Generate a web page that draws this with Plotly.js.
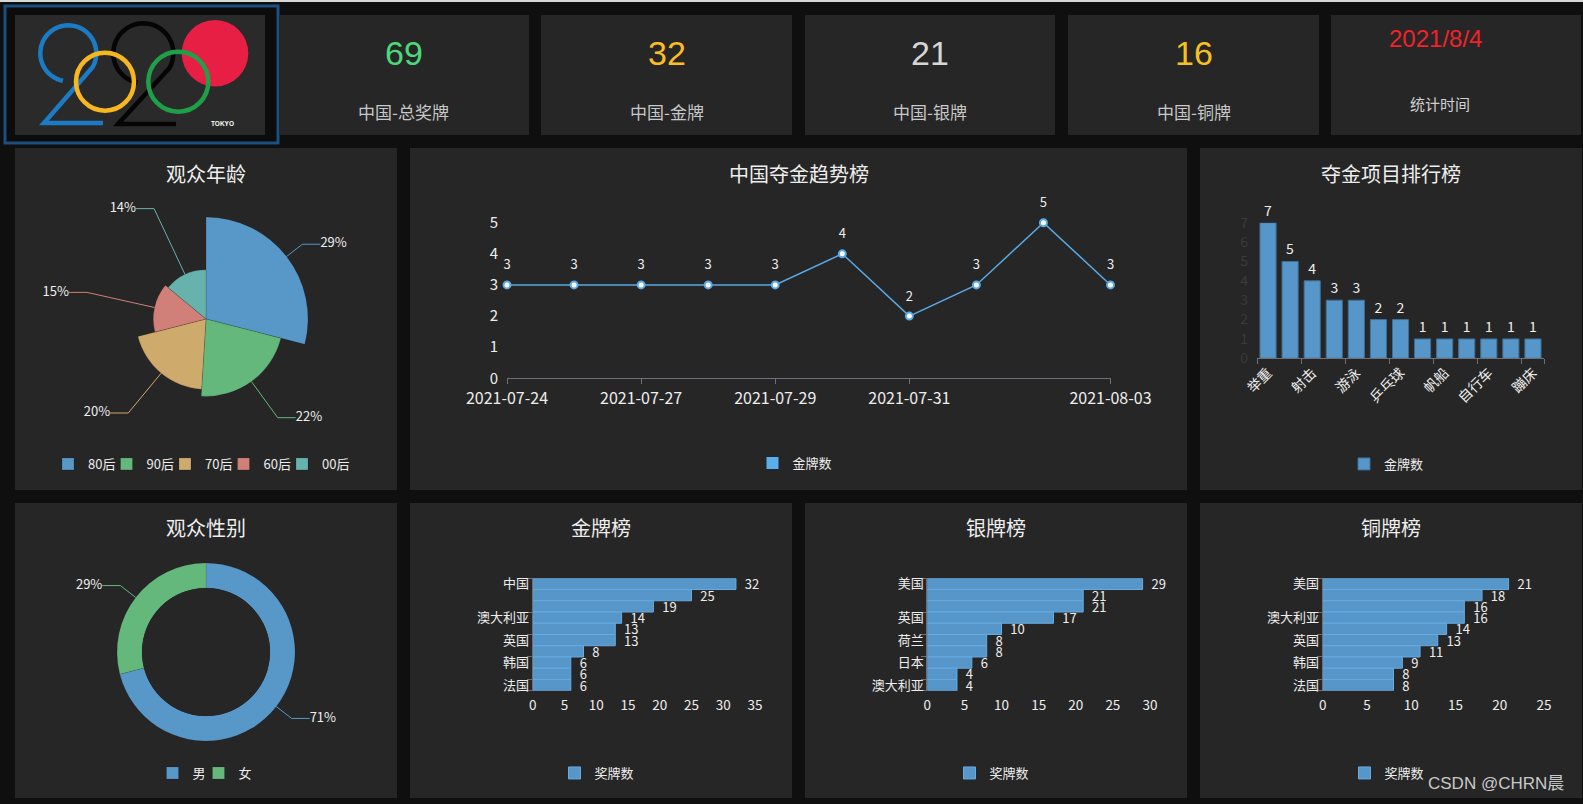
<!DOCTYPE html>
<html>
<head>
<meta charset="utf-8">
<script src="https://cdn.plot.ly/plotly-3.0.1.min.js"></script>
<style>
html,body{margin:0;padding:0;background:#0f0f0f;overflow:hidden}
#chart{width:1583px;height:804px}
</style>
</head>
<body>
<div id="chart"></div>
<script>
// ---------------- DATA ----------------
const kpiValues = [69, 32, 21, 16];
const kpiLabels = ['中国-总奖牌', '中国-金牌', '中国-银牌', '中国-铜牌'];
const statDate = '2021/8/4';
const statLabel = '统计时间';

const ageGroups = ['80后', '90后', '70后', '60后', '00后'];
const agePercent = [29, 22, 20, 15, 14];

const genders = ['男', '女'];
const genderPercent = [71, 29];

const trendDates = ['2021-07-24', '2021-07-25', '2021-07-27', '2021-07-28', '2021-07-29',
                    '2021-07-30', '2021-07-31', '2021-08-01', '2021-08-02', '2021-08-03'];
const trendGolds = [3, 3, 3, 3, 3, 4, 2, 3, 5, 3];
const trendTickDates = ['2021-07-24', '2021-07-27', '2021-07-29', '2021-07-31', '2021-08-03'];

const sports = ['举重', '跳水', '射击', '体操', '游泳', '羽毛球', '乒乓球', '赛艇', '帆船', '击剑', '自行车', '田径', '蹦床'];
const sportGolds = [7, 5, 4, 3, 3, 2, 2, 1, 1, 1, 1, 1, 1];
const sportTicks = ['举重', '射击', '游泳', '乒乓球', '帆船', '自行车', '蹦床'];

const goldCountries = ['中国', '美国', '日本', '澳大利亚', '俄罗斯奥委会', '英国', '德国', '韩国', '荷兰', '法国'];
const goldCounts = [32, 25, 19, 14, 13, 13, 8, 6, 6, 6];
const goldTicks = ['中国', '澳大利亚', '英国', '韩国', '法国'];

const silverCountries = ['美国', '俄罗斯奥委会', '中国', '英国', '德国', '荷兰', '法国', '日本', '韩国', '澳大利亚'];
const silverCounts = [29, 21, 21, 17, 10, 8, 8, 6, 4, 4];
const silverTicks = ['美国', '英国', '荷兰', '日本', '澳大利亚'];

const bronzeCountries = ['美国', '俄罗斯奥委会', '中国', '澳大利亚', '意大利', '英国', '德国', '韩国', '荷兰', '法国'];
const bronzeCounts = [21, 18, 16, 16, 14, 13, 11, 9, 8, 8];
const bronzeTicks = ['美国', '澳大利亚', '英国', '韩国', '法国'];

// ---------------- STYLE / LAYOUT HELPERS ----------------
const W = 1583, H = 804;
const X = x => x / W, Y = y => 1 - y / H;
const FONT = '"Noto Sans CJK SC", "Microsoft YaHei", sans-serif';
const NUMFONT = '"Liberation Sans", Arial, "Noto Sans CJK SC", sans-serif';
const TXT = '#eeeeee';
const PANEL = '#262626';
const AXIS = '#6e7079';
const BLUE = '#5796c8';
const ageColors = ['#5898c8', '#64b87c', '#cfaa6d', '#d08078', '#68b2ae'];
const genderColors = ['#5898c8', '#64b87c'];
const kpiColors = ['#4cd87c', '#fbbd23', '#d6d6d6', '#f7c01f'];

const shapes = [], annotations = [], traces = [];

function rect(x0, y0, x1, y1, fill, line) {
  shapes.push({type: 'rect', xref: 'paper', yref: 'paper', x0: X(x0), x1: X(x1), y0: Y(y1), y1: Y(y0),
    fillcolor: fill, line: line || {width: 0}, layer: 'below'});
}
function ring(cx, cy, r, color, width, fill) {
  shapes.push({type: 'circle', xref: 'paper', yref: 'paper', x0: X(cx - r), x1: X(cx + r), y0: Y(cy + r), y1: Y(cy - r),
    fillcolor: fill || 'rgba(0,0,0,0)', line: {color: color, width: width}, layer: 'below'});
}
function pathShape(pts, color, width) {
  const d = 'M' + pts.map(p => X(p[0]).toFixed(6) + ',' + Y(p[1]).toFixed(6)).join('L');
  shapes.push({type: 'path', xref: 'paper', yref: 'paper', path: d, line: {color: color, width: width}, fillcolor: 'rgba(0,0,0,0)', layer: 'below'});
}
function twoPoints(cx, cy, r, t0, t1, diag, base) {
  const pts = [];
  for (let k = 0; k <= 48; k++) {
    const t = (t0 + (t1 - t0) * k / 48) * Math.PI / 180;
    pts.push([cx + r * Math.cos(t), cy + r * Math.sin(t)]);
  }
  pts.push(diag, base);
  return pts;
}
function text(x, y, t, size, color, extra) {
  annotations.push(Object.assign({xref: 'paper', yref: 'paper', x: X(x), y: Y(y), text: t, showarrow: false,
    xanchor: 'center', yanchor: 'middle', font: {family: FONT, size: size, color: color}}, extra || {}));
}

// ---------------- BACKGROUND PANELS ----------------
rect(0, 0, 1583, 2, '#d8d8d8');
// logo frame
rect(5, 6, 278, 143, '#0c0c0c', {color: '#1b4f80', width: 3});
rect(15, 15, 265, 135, '#2a2a2a');
// KPI cards
const cardX = [[279, 529], [541, 792], [805, 1055], [1068, 1319], [1331, 1581]];
cardX.forEach(c => rect(c[0], 15, c[1], 135, PANEL));
// row 2
rect(15, 148, 397, 490, PANEL);
rect(410, 148, 1187, 490, PANEL);
rect(1200, 148, 1582, 490, PANEL);
// row 3
rect(15, 503, 397, 798, PANEL);
rect(410, 503, 792, 798, PANEL);
rect(805, 503, 1187, 798, PANEL);
rect(1200, 503, 1582, 798, PANEL);

// ---------------- LOGO ----------------
ring(215, 53.3, 33.3, 'rgba(0,0,0,0)', 0, '#e71f45');
pathShape(twoPoints(68.3, 53.3, 28, 101, 390, [44, 123], [103, 123]), '#1b7bc4', 4.5);
pathShape(twoPoints(143.3, 53.3, 30, 101, 390, [118, 124], [176, 124]), '#050505', 4.5);
ring(105, 81.7, 29, '#f7b720', 4.5);
ring(178.3, 81.7, 30, '#1e9f48', 4.5);
text(222, 124, '<b>TOKYO</b>', 6.5, '#ffffff', {font: {family: NUMFONT, size: 6.5, color: '#ffffff'}});

// ---------------- KPI ----------------
kpiValues.forEach((v, i) => {
  const cx = (cardX[i][0] + cardX[i][1]) / 2;
  text(cx, 52.5, String(v), 34, kpiColors[i], {font: {family: NUMFONT, size: 34, color: kpiColors[i]}});
  text(cx, 111, kpiLabels[i], 17, '#c8c8c8');
});
text(1435, 39, statDate, 24, '#f0232b', {font: {family: NUMFONT, size: 24, color: '#f0232b'}});
text(1440, 103.5, statLabel, 15, '#d0d0d0');

// ---------------- TITLES ----------------
text(206, 173, '观众年龄', 20, TXT);
text(798.5, 173, '中国夺金趋势榜', 20, TXT);
text(1391, 173, '夺金项目排行榜', 20, TXT);
text(206, 527, '观众性别', 20, TXT);
text(601, 527, '金牌榜', 20, TXT);
text(996, 527, '银牌榜', 20, TXT);
text(1391, 527, '铜牌榜', 20, TXT);
text(1496, 783, 'CSDN @CHRN晨', 17, '#c9c9c9', {font: {family: NUMFONT, size: 17, color: '#c9c9c9'}});

// ---------------- LEADER LINES (polar) ----------------
function leader(subplot, toR, dStart, dElbow, hLen, thetaDeg, color, label) {
  const t = thetaDeg * Math.PI / 180, s = Math.sin(t) >= 0 ? 1 : -1;
  const ex = dElbow * Math.sin(t), ey = dElbow * Math.cos(t);
  const hx = ex + s * hLen, hy = ey;
  const d2 = Math.hypot(hx, hy), t2 = Math.atan2(hx, hy) * 180 / Math.PI;
  traces.push({type: 'scatterpolar', subplot: subplot, mode: 'lines',
    r: [toR(dStart), toR(dElbow), toR(d2)], theta: [thetaDeg, thetaDeg, t2],
    line: {color: color, width: 1}, showlegend: false, hoverinfo: 'skip', cliponaxis: false});
  traces.push({type: 'scatterpolar', subplot: subplot, mode: 'text', r: [toR(d2)], theta: [t2], text: [label],
    textposition: s > 0 ? 'middle right' : 'middle left', textfont: {family: FONT, size: 13, color: TXT},
    showlegend: false, hoverinfo: 'skip', cliponaxis: false});
}

// ---------------- ROSE (age) ----------------
const R1 = 160, maxPetal = 102;
const rmax1 = Math.max(...agePercent) * R1 / maxPetal;
const toR1 = d => d / R1 * rmax1;
let cum = 0;
ageGroups.forEach((g, i) => {
  const v = agePercent[i];
  const mid = (cum + v / 2) * 3.6;
  cum += v;
  const tr = {type: 'barpolar', subplot: 'polar', r: [v], theta: [mid], width: [v * 3.6], name: g,
    marker: {color: ageColors[i], line: {color: 'rgba(0,0,0,0.25)', width: 0.6}},
    legend: 'legend', hoverinfo: 'skip'};
  if (i === ageGroups.length - 1) tr.legendwidth = 28;
  traces.push(tr);
});
cum = 0;
ageGroups.forEach((g, i) => {
  const v = agePercent[i];
  const mid = (cum + v / 2) * 3.6;
  cum += v;
  leader('polar', toR1, v / rmax1 * R1, maxPetal + 20, 18, mid, ageColors[i], v + '%');
});

// ---------------- DONUT (gender) ----------------
const R2 = 135, rOut = 89, rIn = 64;
const rmax2 = (R2 - rIn) / (rOut - rIn);
const toR2 = d => (d - rIn) / (R2 - rIn) * rmax2;
cum = 0;
genders.forEach((g, i) => {
  const v = genderPercent[i];
  const mid = (cum + v / 2) * 3.6;
  cum += v;
  const tr = {type: 'barpolar', subplot: 'polar2', r: [1], theta: [mid], width: [v * 3.6], name: g,
    marker: {color: genderColors[i], line: {color: 'rgba(0,0,0,0.2)', width: 0.5}},
    legend: 'legend4', hoverinfo: 'skip'};
  if (i === genders.length - 1) tr.legendwidth = 15;
  traces.push(tr);
});
cum = 0;
genders.forEach((g, i) => {
  const v = genderPercent[i];
  const mid = (cum + v / 2) * 3.6;
  cum += v;
  leader('polar2', toR2, rOut, rOut + 19.4, 18, mid, genderColors[i], v + '%');
});

// ---------------- LINE (trend) ----------------
traces.push({type: 'scatter', x: trendDates, y: trendGolds, xaxis: 'x', yaxis: 'y', mode: 'lines+markers',
  line: {color: '#5aa9e6', width: 1.5}, marker: {size: 7, color: '#ffffff', line: {color: '#5aa9e6', width: 2}},
  showlegend: false, hoverinfo: 'skip', cliponaxis: false});
traces.push({type: 'scatter', x: trendDates, y: trendGolds, xaxis: 'x', yaxis: 'y', mode: 'markers+text',
  text: trendGolds.map(String), textposition: 'top center', textfont: {family: FONT, size: 13, color: TXT},
  marker: {size: 18, color: 'rgba(0,0,0,0)'}, showlegend: false, hoverinfo: 'skip', cliponaxis: false});
traces.push({type: 'bar', x: [trendDates[0]], y: [0], xaxis: 'x', yaxis: 'y', name: '金牌数',
  marker: {color: '#5aaeeb', line: {width: 0}}, legend: 'legend2', hoverinfo: 'skip'});

// ---------------- BAR (sports) ----------------
traces.push({type: 'bar', x: sports, y: sportGolds, xaxis: 'x2', yaxis: 'y2', width: 0.73, name: '金牌数',
  marker: {color: BLUE, line: {color: '#3d6f9a', width: 1}},
  text: sportGolds.map(String), textposition: 'outside', constraintext: 'none', cliponaxis: false,
  textfont: {family: FONT, size: 14, color: TXT}, legend: 'legend3', hoverinfo: 'skip'});

// ---------------- HORIZONTAL BARS ----------------
function hbar(names, counts, xa, ya, lg) {
  traces.push({type: 'bar', orientation: 'h', y: names, x: counts, xaxis: xa, yaxis: ya, width: 1, name: '奖牌数',
    marker: {color: BLUE, line: {color: '#66ace4', width: 1}},
    text: counts.map(String), texttemplate: '\u00a0\u00a0%{text}', textposition: 'outside', constraintext: 'none', cliponaxis: false,
    textfont: {family: FONT, size: 13, color: TXT}, legend: lg, hoverinfo: 'skip'});
}
hbar(goldCountries, goldCounts, 'x3', 'y3', 'legend5');
hbar(silverCountries, silverCounts, 'x4', 'y4', 'legend6');
hbar(bronzeCountries, bronzeCounts, 'x5', 'y5', 'legend7');

// ---------------- AXES ----------------
const tf = (size, color) => ({family: FONT, size: size, color: color || TXT});
function hx(x0, x1, max, anchor) {
  return {domain: [X(x0), X(x1)], range: [0, max], dtick: 5, showgrid: false, zeroline: false, showline: false,
    ticks: '', tickfont: tf(13.5), ticklabelstandoff: 5, anchor: anchor, fixedrange: true};
}
function hy(ticks, anchor) {
  return {domain: [Y(690.7), Y(578.3)], type: 'category', range: [9.5, -0.5], tickvals: ticks, ticks: 'outside',
    ticklen: 5, tickcolor: AXIS, tickson: 'boundaries', showline: true, linecolor: AXIS, linewidth: 1,
    showgrid: false, zeroline: false, tickfont: tf(13), anchor: anchor, fixedrange: true};
}
function legendAt(x, y, extra) {
  return Object.assign({x: X(x), y: Y(y), xanchor: 'center', yanchor: 'middle', orientation: 'h',
    bgcolor: 'rgba(0,0,0,0)', font: tf(13), itemwidth: 30, tracegroupgap: 0,
    itemclick: false, itemdoubleclick: false}, extra || {});
}

const layout = {
  width: W, height: H, margin: {l: 0, r: 0, t: 0, b: 0, pad: 0},
  paper_bgcolor: '#0f0f0f', plot_bgcolor: 'rgba(0,0,0,0)',
  font: {family: FONT, color: TXT},
  showlegend: true,
  shapes: shapes, annotations: annotations,
  xaxis: {domain: [X(507), X(1110.5)], type: 'category', range: [0, 9], tickvals: trendTickDates,
    ticks: 'outside', ticklen: 5, tickcolor: AXIS, showline: true, linecolor: AXIS, linewidth: 1,
    showgrid: false, zeroline: false, tickfont: tf(16), anchor: 'y', fixedrange: true},
  yaxis: {domain: [Y(378.3), Y(222.7)], range: [0, 5], dtick: 1, showgrid: false, zeroline: false, showline: false,
    ticks: '', tickfont: tf(15), ticklabelstandoff: 8, anchor: 'x', fixedrange: true},
  xaxis2: {domain: [X(1257), X(1544)], type: 'category', range: [-0.5, sports.length - 0.5], tickvals: sportTicks,
    tickangle: -45, ticks: 'outside', ticklen: 5, tickcolor: AXIS, tickson: 'boundaries', showline: true,
    linecolor: AXIS, linewidth: 1, showgrid: false, zeroline: false, tickfont: tf(14), anchor: 'y2', fixedrange: true},
  yaxis2: {domain: [Y(358.3), Y(222.7)], range: [0, 7], dtick: 1, showgrid: false, zeroline: false, showline: false,
    ticks: '', tickfont: tf(14, '#3a3a3a'), ticklabelstandoff: 8, anchor: 'x2', fixedrange: true},
  xaxis3: hx(532.7, 755, 35, 'y3'), yaxis3: hy(goldTicks, 'x3'),
  xaxis4: hx(927.3, 1150, 30, 'y4'), yaxis4: hy(silverTicks, 'x4'),
  xaxis5: hx(1322.7, 1544, 25, 'y5'), yaxis5: hy(bronzeTicks, 'x5'),
  polar: {domain: {x: [X(206 - R1), X(206 + R1)], y: [Y(319 + R1), Y(319 - R1)]}, bgcolor: 'rgba(0,0,0,0)', bargap: 0,
    radialaxis: {visible: false, range: [0, rmax1]},
    angularaxis: {visible: false, rotation: 90, direction: 'clockwise'}},
  polar2: {domain: {x: [X(206 - R2), X(206 + R2)], y: [Y(652 + R2), Y(652 - R2)]}, bgcolor: 'rgba(0,0,0,0)', bargap: 0,
    hole: rIn / R2,
    radialaxis: {visible: false, range: [0, rmax2]},
    angularaxis: {visible: false, rotation: 90, direction: 'clockwise'}},
  legend: legendAt(201.5, 464, {entrywidth: 13.5}),
  legend2: legendAt(795, 463),
  legend3: legendAt(1386.5, 464),
  legend4: legendAt(205.5, 773, {entrywidth: 1}),
  legend5: legendAt(597, 773),
  legend6: legendAt(992, 773),
  legend7: legendAt(1387, 773)
};

Plotly.newPlot('chart', traces, layout, {staticPlot: true, displayModeBar: false});
</script>
</body>
</html>
